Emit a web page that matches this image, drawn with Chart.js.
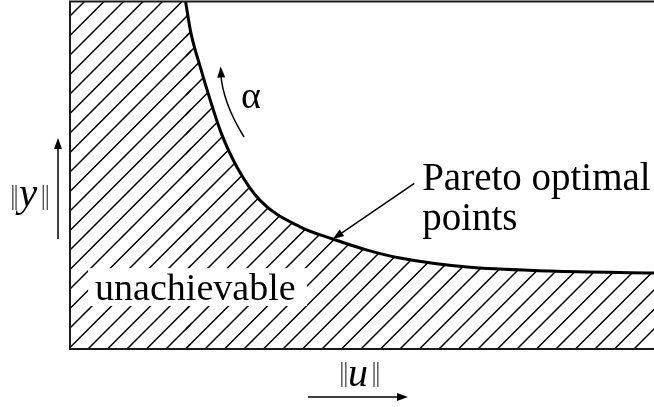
<!DOCTYPE html>
<html>
<head>
<meta charset="utf-8">
<script src="https://cdn.jsdelivr.net/npm/chart.js@4.4.1/dist/chart.umd.min.js"></script>
<style>
  html, body { margin: 0; padding: 0; background: #fff; }
  #paretoChart { display: block; }
</style>
</head>
<body>
<canvas id="paretoChart" width="654" height="407"></canvas>
<script>
/*=============== DATA ===============*/
// trade-off curve: ||u|| on x, ||y|| on y, both on a 0..100 scale
const effortNorm = [19.8, 20.7, 22.3, 24.0, 25.9, 28.6, 32.5, 39.4, 45.0, 50.9, 56.5, 68.0, 82.2, 100]
const outputNorm = [100, 91.1, 81.3, 71.8, 62.2, 52.4, 42.9, 35.2, 31.7, 28.5, 26.2, 23.6, 22.5, 21.9]
// strip left of where the curve leaves the top edge (also unachievable)
const wallX = [0]
const wallY = [100]
const axisMin = 0, axisMax = 100
const pointedIndex = 8   // curve point the "Pareto optimal points" arrow lands on

const SERIF = '"Liberation Serif", "Times New Roman", serif'

/*=============== HATCH PATTERN ===============*/
const makeHatch = () => {
  const size = 39, gap = 19.5, phase = 8
  const tile = document.createElement('canvas')
  tile.width = tile.height = size
  const c = tile.getContext('2d')
  c.strokeStyle = '#000'
  c.lineWidth = 1.5
  c.beginPath()
  // lines x + y = s, i.e. "/" going up to the right
  for (let k = -2; k <= 6; k++) {
    const s = phase + k * gap
    c.moveTo(s + 10, -10)
    c.lineTo(-10, s + 10)
  }
  c.stroke()
  return c.createPattern(tile, 'repeat')
}

const arrowHead = (ctx, tx, ty, angle, len, half) => {
  const bx = tx - len * Math.cos(angle), by = ty - len * Math.sin(angle)
  ctx.beginPath()
  ctx.moveTo(tx, ty)
  ctx.lineTo(bx + half * Math.sin(angle), by - half * Math.cos(angle))
  ctx.lineTo(bx - half * Math.sin(angle), by + half * Math.cos(angle))
  ctx.closePath()
  ctx.fill()
}

// straight arrow, shaft stops at the head base
const arrow = (ctx, x0, y0, x1, y1, len, half) => {
  const a = Math.atan2(y1 - y0, x1 - x0)
  ctx.beginPath()
  ctx.moveTo(x0, y0)
  ctx.lineTo(x1 - len * 0.8 * Math.cos(a), y1 - len * 0.8 * Math.sin(a))
  ctx.stroke()
  arrowHead(ctx, x1, y1, a, len, half)
}

// ||v|| label: thin double bars around an italic letter
const normLabel = (ctx, letter, bars, letterX, letterBase, barBase, size) => {
  ctx.fillStyle = '#555'
  ctx.font = `28px ${SERIF}`
  ctx.textAlign = 'center'
  bars.forEach(bx => ctx.fillText('|', bx, barBase))
  ctx.fillStyle = '#000'
  ctx.font = `italic ${size}px ${SERIF}`
  ctx.textAlign = 'left'
  ctx.fillText(letter, letterX, letterBase)
}

/*=============== FRAME + LABELS ===============*/
const annotations = {
  id: 'annotations',
  afterDatasetsDraw(chart) {
    const {ctx, chartArea: area, scales: {x, y}} = chart
    const px = v => x.getPixelForValue(v), py = v => y.getPixelForValue(v)

    ctx.save()
    // white patch under the region name
    ctx.fillStyle = '#fff'
    ctx.fillRect(px(3.1), py(23.3), px(40.6) - px(3.1), py(12.4) - py(23.3))

    // frame: top, left and bottom edges only
    ctx.strokeStyle = '#1a1a1a'
    ctx.lineWidth = 2
    ctx.beginPath()
    ctx.moveTo(area.right, area.top - 0.5)
    ctx.lineTo(area.left, area.top - 0.5)
    ctx.lineTo(area.left, area.bottom)
    ctx.lineTo(area.right, area.bottom)
    ctx.stroke()

    ctx.fillStyle = '#000'
    ctx.strokeStyle = '#000'
    ctx.lineWidth = 1.5
    ctx.textBaseline = 'alphabetic'
    ctx.textAlign = 'left'
    ctx.font = `39px ${SERIF}`
    ctx.fillText('Pareto optimal', px(60.3), py(45.8))
    ctx.fillText('points', px(60.3), py(34.3))
    ctx.font = `38px ${SERIF}`
    ctx.fillText('unachievable', px(4.3), py(14.1))
    ctx.fillText('\u03b1', px(29.3), py(69.5))

    // pointer onto the curve
    arrow(ctx, px(58.96), py(47.75), px(effortNorm[pointedIndex]), py(outputNorm[pointedIndex]), 11, 4)

    // curved arrow for increasing alpha
    const t0 = {x: px(29.8), y: py(61.1)}, cp = {x: px(26.1), y: py(71.1)}, t1 = {x: px(25.8), y: py(81.4)}
    ctx.beginPath()
    ctx.moveTo(t0.x, t0.y)
    ctx.quadraticCurveTo(cp.x, cp.y, t1.x, t1.y + 6)
    ctx.stroke()
    arrowHead(ctx, t1.x, t1.y, Math.atan2(t1.y - cp.y, t1.x - cp.x), 11, 4)

    // axis arrows and norm labels outside the frame
    arrow(ctx, area.left - 12, area.bottom - 110, area.left - 12, area.top + 136, 11, 4)
    arrow(ctx, area.left + 238, area.bottom + 48, area.left + 338, area.bottom + 48, 11, 4)
    normLabel(ctx, 'y', [12.7, 16, 43.3, 47.3], 19, 206, 204, 41)
    normLabel(ctx, 'u', [341.7, 345.7, 374, 377.7], 348, 386, 381, 40)
    ctx.restore()
  }
}

/*=============== CHART ===============*/
const hatch = makeHatch()
const curve = effortNorm.map((v, i) => ({x: v, y: outputNorm[i]}))
// the strip joins the first stretch of the curve so both fills overlap (no seam)
const wall = wallX.map((v, i) => ({x: v, y: wallY[i]})).concat(curve.slice(0, 2))

new Chart(document.getElementById('paretoChart'), {
  type: 'scatter',
  data: {
    datasets: [
      {
        data: wall,
        showLine: true,
        fill: 'origin',
        backgroundColor: hatch,
        borderColor: 'transparent',
        borderWidth: 0,
        pointRadius: 0
      },
      {
        data: curve,
        showLine: true,
        fill: 'origin',
        backgroundColor: hatch,
        borderColor: '#000',
        borderWidth: 3,
        pointRadius: 0,
        cubicInterpolationMode: 'monotone'
      }
    ]
  },
  options: {
    responsive: false,
    animation: false,
    events: [],
    layout: { padding: { left: 70, top: 2, right: 0, bottom: 58 } },
    scales: {
      x: { type: 'linear', min: axisMin, max: axisMax, display: false },
      y: { type: 'linear', min: axisMin, max: axisMax, display: false }
    },
    plugins: {
      legend: { display: false },
      tooltip: { enabled: false }
    }
  },
  plugins: [annotations]
})
</script>
</body>
</html>
